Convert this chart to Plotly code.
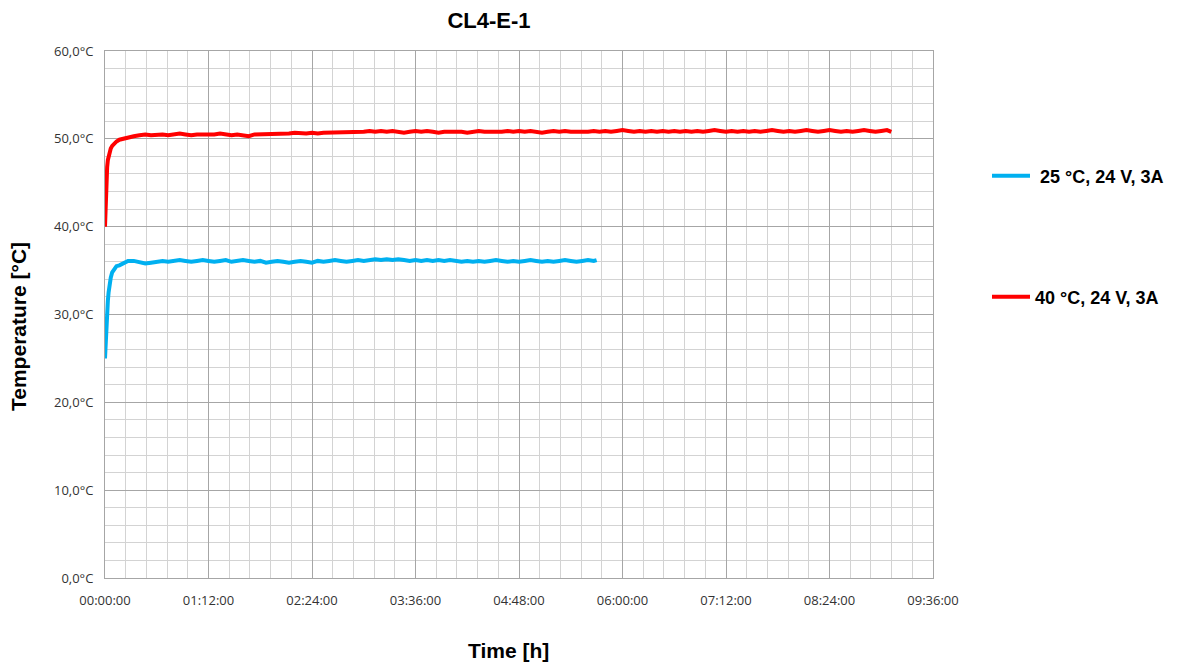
import plotly.graph_objects as go
import pandas as pd

# ---------------- data (minutes since start, °C) ----------------
blue_name = " 25 °C, 24 V, 3A"
red_name = "40 °C, 24 V, 3A"

blue_minutes = [0, 0.5, 1, 1.5, 2, 2.5, 3, 4, 5, 6, 7, 8, 10, 12, 14, 16,
                20, 24, 28, 32, 36, 40, 44, 48, 52, 56, 60, 64, 68, 72, 76, 80,
                84, 88, 92, 96, 100, 104, 108, 112, 116, 120, 124, 128, 132, 136, 140, 144,
                148, 152, 156, 160, 164, 168, 172, 176, 180, 184, 188, 192, 196, 200, 204, 208,
                212, 216, 220, 224, 228, 232, 236, 240, 244, 248, 252, 256, 260, 264, 268, 272,
                276, 280, 284, 288, 292, 296, 300, 304, 308, 312, 316, 320, 324, 328, 332, 336,
                340, 342]
blue_temp = [25.0, 27.5, 29.3, 30.6, 31.6, 32.5, 33.2, 34.2, 34.8, 35.1, 35.3, 35.5, 35.6, 35.8, 36.0, 36.1,
             36.1, 35.9, 35.8, 35.9, 36.0, 36.1, 36.0, 36.1, 36.2, 36.1, 36.0, 36.1, 36.2, 36.1, 36.0, 36.1,
             36.2, 36.0, 36.1, 36.2, 36.1, 36.0, 36.1, 35.9, 36.0, 36.1, 36.0, 35.9, 36.0, 36.1, 36.0, 35.9,
             36.1, 36.0, 36.1, 36.2, 36.1, 36.0, 36.1, 36.2, 36.1, 36.2, 36.3, 36.2, 36.3, 36.2, 36.3, 36.2,
             36.1, 36.2, 36.1, 36.2, 36.1, 36.2, 36.1, 36.2, 36.1, 36.0, 36.1, 36.0, 36.1, 36.0, 36.1, 36.2,
             36.1, 36.0, 36.1, 36.0, 36.1, 36.2, 36.1, 36.0, 36.1, 36.0, 36.1, 36.2, 36.1, 36.0, 36.1, 36.2,
             36.1, 36.2]

red_minutes = [0, 0.5, 1, 1.5, 2, 3, 4, 5, 6, 8, 10, 12, 14, 16, 20, 24,
               28, 32, 36, 40, 44, 48, 52, 56, 60, 64, 68, 72, 76, 80, 84, 88,
               92, 96, 100, 104, 108, 112, 116, 120, 124, 128, 132, 136, 140, 144, 148, 152,
               156, 160, 164, 168, 172, 176, 180, 184, 188, 192, 196, 200, 204, 208, 212, 216,
               220, 224, 228, 232, 236, 240, 244, 248, 252, 256, 260, 264, 268, 272, 276, 280,
               284, 288, 292, 296, 300, 304, 308, 312, 316, 320, 324, 328, 332, 336, 340, 344,
               348, 352, 356, 360, 364, 368, 372, 376, 380, 384, 388, 392, 396, 400, 404, 408,
               412, 416, 420, 424, 428, 432, 436, 440, 444, 448, 452, 456, 460, 464, 468, 472,
               476, 480, 484, 488, 492, 496, 500, 504, 508, 512, 516, 520, 524, 528, 532, 536,
               540, 544, 547]
red_temp = [40.0, 43.5, 45.5, 46.8, 47.6, 48.4, 48.9, 49.2, 49.4, 49.7, 49.9, 50.0, 50.1, 50.2, 50.3, 50.4,
            50.5, 50.4, 50.5, 50.5, 50.4, 50.5, 50.6, 50.5, 50.4, 50.5, 50.5, 50.4, 50.5, 50.6, 50.5, 50.4,
            50.5, 50.4, 50.3, 50.5, 50.5, 50.6, 50.5, 50.6, 50.5, 50.6, 50.7, 50.6, 50.6, 50.7, 50.6, 50.7,
            50.7, 50.8, 50.7, 50.8, 50.7, 50.8, 50.8, 50.9, 50.8, 50.9, 50.8, 50.9, 50.8, 50.7, 50.8, 50.9,
            50.8, 50.9, 50.8, 50.7, 50.8, 50.8, 50.9, 50.8, 50.7, 50.8, 50.9, 50.8, 50.8, 50.7, 50.8, 50.9,
            50.8, 50.9, 50.8, 50.9, 50.8, 50.7, 50.8, 50.9, 50.8, 50.9, 50.8, 50.8, 50.7, 50.8, 50.9, 50.8,
            50.9, 50.8, 50.9, 51.0, 50.9, 50.8, 50.9, 50.8, 50.9, 50.8, 50.9, 50.8, 50.9, 50.8, 50.9, 50.8,
            50.9, 50.8, 50.9, 51.0, 50.9, 50.8, 50.9, 50.8, 50.9, 50.8, 50.9, 50.8, 50.9, 51.0, 50.9, 50.8,
            50.9, 50.8, 50.9, 51.0, 50.9, 50.8, 50.9, 51.0, 50.9, 50.8, 50.9, 50.8, 50.9, 51.0, 50.9, 50.8,
            50.9, 51.0, 50.8]

x_range_minutes = [0, 576]
x_tick_step_minutes = 72
x_minor_step_minutes = 14.4
y_range = [0, 60]

chart_title = "CL4-E-1"
x_title = "Time [h]"
y_title = "Temperature [°C]"

# ---------------- figure ----------------
base = pd.Timestamp("2000-01-01 00:00:00")


def to_time(mins):
    return [base + pd.Timedelta(minutes=m) for m in mins]


# page body adds an 8px offset; layout below is in figure pixels (reference - 8)
OFF = 8
W, H = 1181 - OFF, 666 - OFF
L, R, T, B = 105 - OFF, 933 - OFF, 51 - OFF, 578 - OFF


def px_x(x):
    return (x - OFF - L) / (R - L)


def px_y(y):
    return (B - (y - OFF)) / (B - T)


fig = go.Figure()
fig.add_trace(go.Scatter(x=to_time(blue_minutes), y=blue_temp, mode="lines", name=blue_name,
                         line=dict(color="#00b0f0", width=4), legend="legend"))
fig.add_trace(go.Scatter(x=to_time(red_minutes), y=red_temp, mode="lines", name=red_name,
                         line=dict(color="#ff0000", width=4), legend="legend2"))

tick_font = dict(family="Open Sans", size=13, color="#333333")
leg_font = dict(family="Liberation Sans", size=18, color="#000000", weight="bold")

fig.update_layout(
    width=W, height=H,
    margin=dict(l=L, r=W - R, t=T, b=H - B, autoexpand=False),
    paper_bgcolor="white", plot_bgcolor="white",
    separators=",.",
    showlegend=True,
    title=dict(text="<b>" + chart_title + "</b>", x=(489 - OFF) / W, xref="container", xanchor="center",
               y=1 - (20 - OFF) / H, yref="container", yanchor="middle",
               font=dict(family="Liberation Sans", size=22, color="#000000")),
    legend=dict(x=px_x(987), y=px_y(176), xanchor="left", yanchor="middle",
                font=leg_font, bgcolor="rgba(0,0,0,0)", itemwidth=38),
    legend2=dict(x=px_x(987), y=px_y(297), xanchor="left", yanchor="middle",
                 font=leg_font, bgcolor="rgba(0,0,0,0)", itemwidth=38),
    xaxis=dict(
        type="date",
        range=to_time(x_range_minutes),
        tick0=base, dtick=x_tick_step_minutes * 60000,
        tickformat="%H:%M:%S",
        tickfont=tick_font,
        showgrid=True, gridcolor="#a6a6a6", gridwidth=1,
        minor=dict(dtick=x_minor_step_minutes * 60000, showgrid=True, gridcolor="#d3d3d3", gridwidth=1),
        showline=True, linecolor="#a6a6a6", linewidth=1, mirror=True,
        zeroline=False, ticks="", ticklabelstandoff=10,
    ),
    yaxis=dict(
        range=y_range, dtick=10, tick0=0,
        tickformat=".1f", ticksuffix="°C",
        tickfont=tick_font,
        showgrid=True, gridcolor="#a6a6a6", gridwidth=1,
        minor=dict(dtick=2, showgrid=True, gridcolor="#d3d3d3", gridwidth=1),
        showline=True, linecolor="#a6a6a6", linewidth=1, mirror=True,
        zeroline=False, ticks="", ticklabelstandoff=8,
    ),
    annotations=[
        dict(text="<b>" + x_title + "</b>", x=px_x(508), y=px_y(650), xref="paper", yref="paper",
             showarrow=False, xanchor="center", yanchor="middle",
             font=dict(family="Liberation Sans", size=21, color="#000000")),
        dict(text="<b>" + y_title + "</b>", x=px_x(18), y=px_y(327), xref="paper", yref="paper",
             showarrow=False, textangle=-90, xanchor="center", yanchor="middle",
             font=dict(family="Liberation Sans", size=21, color="#000000")),
    ],
)

fig.write_html("out.html")
